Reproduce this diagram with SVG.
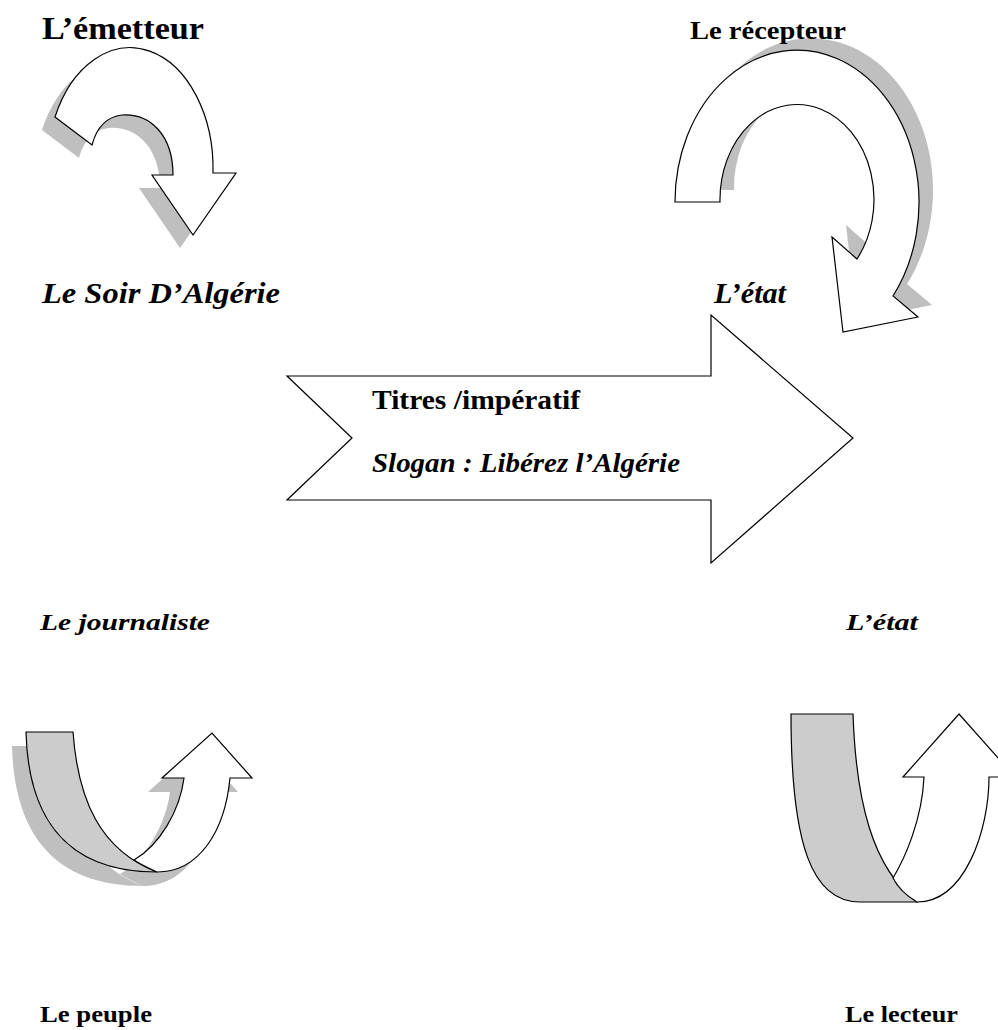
<svg xmlns="http://www.w3.org/2000/svg" width="998" height="1030" viewBox="0 0 998 1030">
<style>
.shape{fill:#ffffff;stroke:#000000;stroke-width:1.2;stroke-linejoin:miter}
.band{fill:#cccccc;stroke:#000000;stroke-width:1.2}
.shadow{fill:#bfbfbf;stroke:none}
.t{font-family:"Liberation Serif","Times New Roman",serif;font-weight:bold;fill:#000000}
.i{font-style:italic}
</style>
<defs>
<path id="tl" d="M55,117 A83,121 0 0 1 213,173 L236,173 L193,235 L152,175 L173,175 C173,135 150,113 122,115 C105,117 96,130 92,145 Z"/>
<path id="tr" d="M675,202 A122,152 0 1 1 893,296 L918,317 L843,332 L832,237 L857,259 A77,95 0 1 0 720,202 Z"/>
<path id="blg" d="M26,732 L73,732 C78,800 100,850 157,872 C60,872 28,810 26,732 Z"/>
<path id="blw" d="M134,860 C160,845 180,810 184,778 L162,778 L212,733 L252,778 L230,778 C225,830 200,872 157,872 C148,868 140,864 134,860 Z"/>
</defs>
<rect x="0" y="0" width="998" height="1030" fill="#ffffff"/>

<g id="arrow-emetteur">
<use href="#tl" class="shadow" transform="translate(-13,13)"/>
<use href="#tl" class="shape"/>
</g>

<g id="arrow-recepteur">
<use href="#tr" class="shadow" transform="translate(14,-12)"/>
<use href="#tr" class="shape"/>
</g>

<g id="arrow-main">
<path class="shape" d="M287,376 L711,376 L711,315 L853,438 L711,563 L711,500 L287,500 L352,438 Z"/>
<text class="t" x="372" y="409" font-size="27" textLength="208" lengthAdjust="spacingAndGlyphs">Titres /impératif</text>
<text class="t i" x="372" y="472" font-size="27" textLength="308" lengthAdjust="spacingAndGlyphs">Slogan : Libérez l’Algérie</text>
</g>

<g id="arrow-journaliste">
<use href="#blg" class="shadow" transform="translate(-14,14)"/>
<use href="#blw" class="shadow" transform="translate(-14,14)"/>
<use href="#blg" class="band"/>
<use href="#blw" class="shape"/>
</g>

<g id="arrow-lecteur">
<path class="band" d="M791,714 L853,714 C856,800 872,868 917,902 L860,902 C812,902 791,845 791,714 Z"/>
<path class="shape" d="M893,878 C905,858 922,820 924,777 L903,777 L959,714 L1015,777 L989,777 C989,830 965,902 917,902 C905,895 898,888 893,878 Z"/>
</g>

<g id="label-emetteur"><text class="t" x="42" y="39" font-size="31" textLength="162" lengthAdjust="spacingAndGlyphs">L’émetteur</text></g>
<g id="label-recepteur"><text class="t" x="690" y="39" font-size="25" textLength="156" lengthAdjust="spacingAndGlyphs">Le récepteur</text></g>
<g id="label-soir"><text class="t i" x="42" y="303" font-size="30" textLength="238" lengthAdjust="spacingAndGlyphs">Le Soir D’Algérie</text></g>
<g id="label-etat-top"><text class="t i" x="714" y="303" font-size="30" textLength="72" lengthAdjust="spacingAndGlyphs">L’état</text></g>
<g id="label-journaliste"><text class="t i" x="40" y="630" font-size="24" textLength="170" lengthAdjust="spacingAndGlyphs">Le journaliste</text></g>
<g id="label-etat-bottom"><text class="t i" x="846" y="630" font-size="24" textLength="72" lengthAdjust="spacingAndGlyphs">L’état</text></g>
<g id="label-peuple"><text class="t" x="40" y="1022" font-size="24" textLength="112" lengthAdjust="spacingAndGlyphs">Le peuple</text></g>
<g id="label-lecteur"><text class="t" x="845" y="1022" font-size="24" textLength="113" lengthAdjust="spacingAndGlyphs">Le lecteur</text></g>
</svg>
